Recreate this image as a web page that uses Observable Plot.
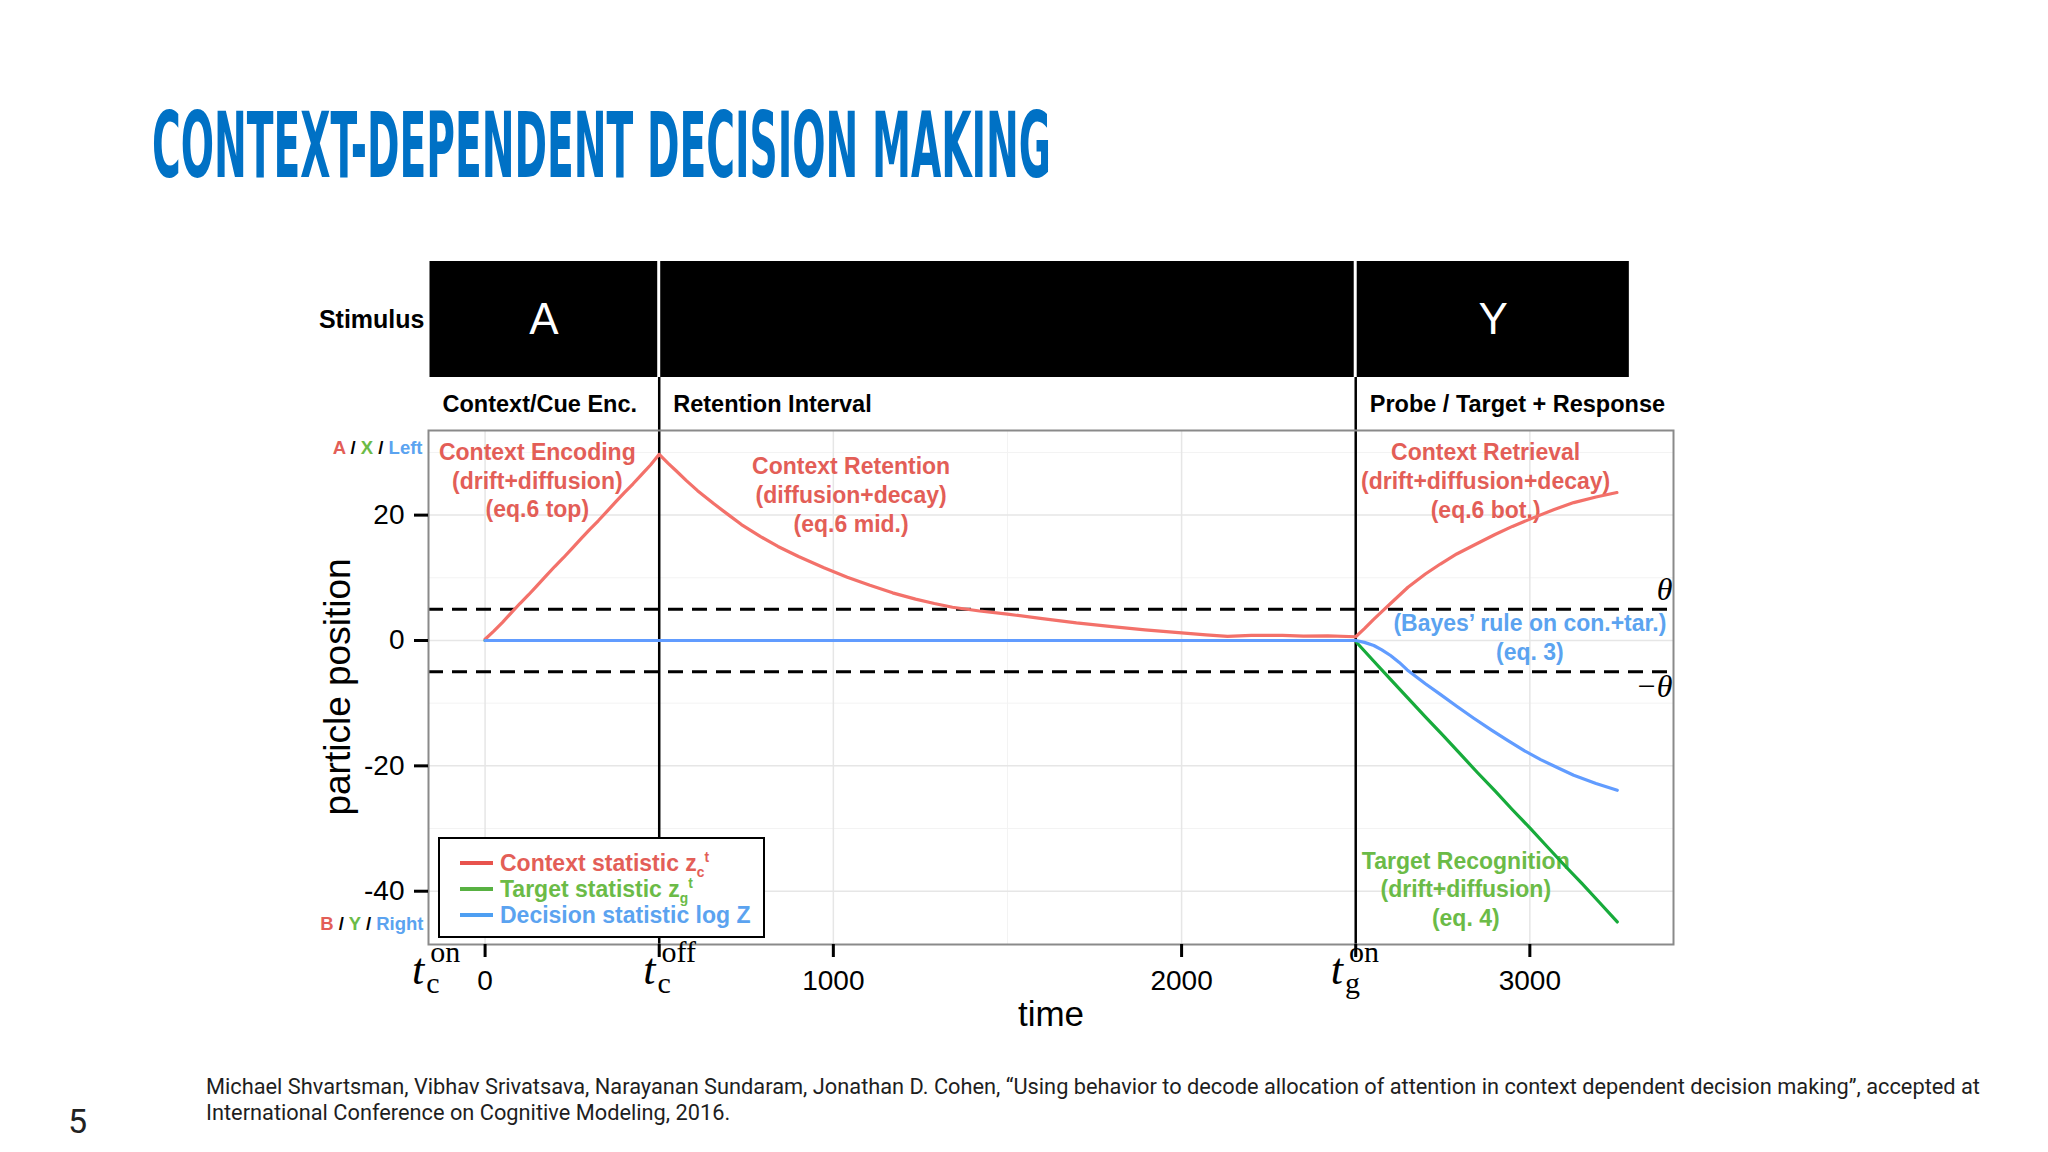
<!DOCTYPE html>
<html lang="en">
<head>
<meta charset="utf-8">
<title>Context-dependent decision making</title>
<script src="https://cdn.jsdelivr.net/npm/d3@7"></script>
<script src="https://cdn.jsdelivr.net/npm/@observablehq/plot@0.6"></script>
<style>
  html, body { margin:0; padding:0; background:#fff; }
  body { width:2048px; height:1152px; position:relative; overflow:hidden; font-family:"Liberation Sans", Arial, sans-serif; }
  .abs { position:absolute; }
  #stim, #phase, #main { position:absolute; left:0; width:2048px; }
  #stim { top:261px; }
  #phase { top:377px; }
  #main { top:420px; }
  #ylabel { position:absolute; left:337px; top:687px; transform:translate(-50%,-50%) rotate(-90deg); font-size:37px; white-space:nowrap; line-height:1; color:#000; }
  #legend { position:absolute; left:438px; top:837px; width:327px; height:101px; border:2px solid #000; background:#fff; box-sizing:border-box; }
  .lrow { position:absolute; left:0; height:26px; font-weight:bold; font-size:23px; white-space:nowrap; }
  .lkey { position:absolute; left:20px; width:33px; height:4px; }
  .ltext { position:absolute; left:60px; top:0; line-height:26px; }
  .ltext sub, .ltext sup { font-size:0.6em; line-height:0; }
  #cite { position:absolute; left:206px; top:1074px; font-family:Roboto, "Open Sans", sans-serif; font-size:20px; line-height:26px; color:#1e1e1e; white-space:nowrap; }
  #slide { position:absolute; left:68px; top:1104px; font-family:Roboto, sans-serif; font-size:34px; line-height:34px; color:#222; }
</style>
</head>
<body>
<div id="stim"></div>
<div id="phase"></div>
<div id="main"></div>
<script>
// ---------- data ----------
const titleText = "CONTEXT-DEPENDENT DECISION MAKING";
const stimulusLabel = "Stimulus";
const stimuli = [
  {label: "A", start: -162.5, end: 500},
  {label: "",  start: 500,    end: 2500},
  {label: "Y", start: 2500,   end: 3290}
];
const phases = [
  {label: "Context/Cue Enc.",          start: -162.5},
  {label: "Retention Interval",        start: 500},
  {label: "Probe / Target + Response", start: 2500}
];
const phaseBoundaries = [500, 2500];
const thresholds = [5, -5];
const xLabelTicks = [0, 1000, 2000, 3000];
const xEventTicks = [500, 2500];
const yTicks = [-40, -20, 0, 20];
const xGridMajor = [0, 1000, 2000, 3000];
const xGridMinor = [500, 1500, 2500];
const yGridMajor = [-40, -20, 0, 20];
const yGridMinor = [-30, -10, 10, 30];
const xTitle = "time";
const yTitle = "particle position";

// time (ms), value
const contextStatistic = [
  [0,0.2],[25,1.5],[50,2.9],[75,4.4],[100,5.9],[125,7.3],[150,8.8],[175,10.3],[200,11.8],[225,13.2],
  [250,14.7],[275,16.2],[300,17.7],[325,19.1],[350,20.6],[375,22.1],[400,23.6],[425,25.0],[450,26.5],
  [475,28.0],[500,29.7],
  [525,28.3],[550,27.0],[578,25.5],[610,23.9],[657,21.8],[700,20.0],[736,18.5],[790,16.6],[841,15.0],
  [900,13.4],[973,11.6],[1040,10.1],[1105,8.8],[1170,7.6],[1236,6.6],[1290,5.9],[1342,5.3],[1420,4.7],
  [1500,4.2],[1600,3.5],[1698,2.8],[1800,2.2],[1895,1.7],[2000,1.2],[2070,0.9],[2132,0.65],[2200,0.8],
  [2290,0.8],[2350,0.7],[2420,0.75],[2500,0.6],
  [2525,1.9],[2550,3.3],[2575,4.6],[2600,5.9],[2650,8.5],[2700,10.6],[2743,12.2],[2790,13.8],[2839,15.2],
  [2900,16.9],[2950,18.2],[3011,19.6],[3070,20.9],[3126,22.0],[3190,22.9],[3250,23.6]
];
const targetStatistic = [
  [0,0],[2500,0],[2504,-0.4],[2550,-3.2],[2600,-6.2],[2650,-9.2],[2700,-12.2],[2750,-15.1],[2800,-18.1],
  [2850,-21.1],[2900,-24.0],[2950,-27.0],[3000,-29.9],[3050,-32.9],[3100,-35.9],[3150,-38.8],[3200,-41.8],[3251,-44.9]
];
const decisionStatistic = [
  [0,0],[2500,0],[2525,-0.3],[2552,-0.8],[2575,-1.5],[2600,-2.4],[2625,-3.5],[2648,-4.7],[2700,-6.9],
  [2743,-8.6],[2790,-10.5],[2839,-12.4],[2890,-14.3],[2935,-15.9],[2985,-17.6],[3031,-19.0],[3080,-20.3],
  [3126,-21.5],[3190,-22.8],[3251,-23.9]
];
const annotations = [
  {series: "context",  time: 150,  value: 25.7,  text: "Context Encoding\n(drift+diffusion)\n(eq.6 top)"},
  {series: "context",  time: 1051, value: 23.4,  text: "Context Retention\n(diffusion+decay)\n(eq.6 mid.)"},
  {series: "context",  time: 2873, value: 25.6,  text: "Context Retrieval\n(drift+diffusion+decay)\n(eq.6 bot.)"},
  {series: "decision", time: 3000, value: 0.7,   text: "(Bayes’ rule on con.+tar.)\n(eq. 3)"},
  {series: "target",   time: 2816, value: -39.5, text: "Target Recognition\n(drift+diffusion)\n(eq. 4)"}
];
const mathTicks = [
  {time: 0,    base: "t", sup: "on",  sub: "c"},
  {time: 500,  base: "t", sup: "off", sub: "c"},
  {time: 2500, base: "t", sup: "on",  sub: "g"}
];
const topSideLabel = [["A","context"],[" / ","axis"],["X","target"],[" / ","axis"],["Left","decision"]];
const bottomSideLabel = [["B","context"],[" / ","axis"],["Y","target"],[" / ","axis"],["Right","decision"]];
const legendItems = [
  {series: "context",  label: "Context statistic z", sub: "c", sup: "t"},
  {series: "target",   label: "Target statistic z",  sub: "g", sup: "t"},
  {series: "decision", label: "Decision statistic log Z", sub: "", sup: ""}
];
const citation = [
  "Michael Shvartsman, Vibhav Srivatsava, Narayanan Sundaram, Jonathan D. Cohen, “Using behavior to decode allocation of attention in context dependent decision making”, accepted at",
  "International Conference on Cognitive Modeling, 2016."
];
const slideNumber = "5";

// ---------- style ----------
const lineColor = {context: "#f3716a", target: "#17ab3b", decision: "#619cff"};
const textColor = {context: "#e35e57", target: "#6bbb47", decision: "#5ba3f0", axis: "#000"};
const keyColor  = {context: "#e8534d", target: "#58b142", decision: "#4e9ff2"};
const titleColor = "#0071c5";
const sans = "Liberation Sans, Arial, sans-serif";
const serif = "Liberation Serif, Times New Roman, serif";
const W = 2048, ML = 428, MR = 2048 - 1673;
const xDomain = [-162.5, 3412.5];
const yDomain = [-48.5, 33.5];
const mathTickDx = {0: -73, 500: -16, 2500: -25};
const baseStyle = {background: "transparent", overflow: "visible", fontFamily: sans, color: "#000"};

// ---------- title ----------
const titleSvg = d3.select("body").append("svg").attr("class", "abs")
  .style("left", "0px").style("top", "0px").attr("width", 2048).attr("height", 230);
titleSvg.append("text").attr("x", 152).attr("y", 177)
  .attr("font-family", "DejaVu Sans Condensed, DejaVu Sans, sans-serif").attr("font-weight", "bold")
  .attr("font-size", 91).attr("fill", titleColor)
  .attr("textLength", 899).attr("lengthAdjust", "spacingAndGlyphs")
  .text(titleText);

// ---------- stimulus strip ----------
const stimPlot = Plot.plot({
  width: W, height: 116, marginLeft: ML, marginRight: MR, marginTop: 0, marginBottom: 0,
  style: baseStyle,
  x: {domain: xDomain, axis: null},
  marks: [
    Plot.rect(stimuli, {x1: "start", x2: "end", fill: "#000", insetLeft: 1.5, insetRight: 1.5}),
    Plot.text(stimuli.filter(d => d.label), {x: d => (d.start + d.end) / 2, text: "label", fill: "#fff", fontSize: 44, frameAnchor: "middle"}),
    Plot.text([stimulusLabel], {text: d => d, frameAnchor: "left", textAnchor: "end", dx: -4, fontSize: 25, fontWeight: "bold", fill: "#000"})
  ]
});
document.getElementById("stim").appendChild(stimPlot);

// ---------- phase row ----------
const phasePlot = Plot.plot({
  width: W, height: 53, marginLeft: ML, marginRight: MR, marginTop: 0, marginBottom: 0,
  style: baseStyle,
  x: {domain: xDomain, axis: null},
  marks: [
    Plot.ruleX(phaseBoundaries, {stroke: "#000", strokeWidth: 2.5}),
    Plot.text(phases, {x: "start", text: "label", textAnchor: "start", dx: 14, frameAnchor: "middle", fontSize: 23.5, fontWeight: "bold", fill: "#000"})
  ]
});
document.getElementById("phase").appendChild(phasePlot);

// ---------- helpers ----------
function coloredText(parts, options) {
  return Plot.text([parts.map(p => p[0]).join("")], {
    ...options, text: d => d,
    render(index, scales, values, dims, ctx, next) {
      const g = next(index, scales, values, dims, ctx);
      d3.select(g).selectAll("text").each(function() {
        const t = d3.select(this).text(null);
        parts.forEach(p => t.append("tspan").attr("fill", textColor[p[1]]).text(p[0]));
      });
      return g;
    }
  });
}
function annotationMark(series) {
  return Plot.text(annotations.filter(a => a.series === series), {
    x: "time", y: "value", text: "text", fill: textColor[series],
    fontSize: 23, fontWeight: "bold", lineHeight: 1.25, textAnchor: "middle", lineAnchor: "middle"
  });
}
function statLine(data, series) {
  return Plot.line(data, {x: d => d[0], y: d => d[1], stroke: lineColor[series], strokeWidth: 3.2, curve: "linear"});
}

// ---------- main panel ----------
const mainPlot = Plot.plot({
  width: W, height: 624, marginLeft: ML, marginRight: MR, marginTop: 10, marginBottom: 100,
  style: {...baseStyle, fontSize: "28px"},
  x: {domain: xDomain},
  y: {domain: yDomain},
  marks: [
    Plot.gridX(xGridMinor, {stroke: "#f3f3f3", strokeOpacity: 1, strokeWidth: 1}),
    Plot.gridY(yGridMinor, {stroke: "#f3f3f3", strokeOpacity: 1, strokeWidth: 1}),
    Plot.gridX(xGridMajor, {stroke: "#e6e6e6", strokeOpacity: 1, strokeWidth: 1.5}),
    Plot.gridY(yGridMajor, {stroke: "#e6e6e6", strokeOpacity: 1, strokeWidth: 1.5}),
    annotationMark("context"),
    annotationMark("decision"),
    annotationMark("target"),
    Plot.ruleY(thresholds, {stroke: "#000", strokeWidth: 3, strokeDasharray: "15,9"}),
    Plot.ruleX(phaseBoundaries, {stroke: "#000", strokeWidth: 2.5}),
    statLine(contextStatistic, "context"),
    statLine(targetStatistic, "target"),
    statLine(decisionStatistic, "decision"),
    Plot.frame({stroke: "#8a8a8a", strokeWidth: 2}),
    Plot.axisY({ticks: yTicks, tickSize: 14, tickPadding: 10, fontSize: 28, tickFormat: d => String(d), label: null, strokeWidth: 3}),
    Plot.axisX({ticks: xLabelTicks, tickSize: 13, tickPadding: 13, fontSize: 28, tickFormat: d => String(d), label: null, strokeWidth: 3}),
    Plot.axisX({ticks: xEventTicks, tickSize: 13, fill: "none", label: null, strokeWidth: 3}),
    Plot.text([xTitle], {text: d => d, frameAnchor: "bottom", dy: 70, fontSize: 35, lineAnchor: "middle", fill: "#000"}),
    Plot.text(["θ"], {text: d => d, y: () => thresholds[0], frameAnchor: "right", textAnchor: "end", dx: -1, dy: -19, fontFamily: serif, fontStyle: "italic", fontSize: 32, fill: "#000"}),
    Plot.text(["−θ"], {text: d => d, y: () => thresholds[1], frameAnchor: "right", textAnchor: "end", dx: -1, dy: 15, fontFamily: serif, fontStyle: "italic", fontSize: 32, fill: "#000"}),
    coloredText(topSideLabel, {frameAnchor: "top-left", textAnchor: "end", dx: -6, dy: 10, fontSize: 18.5, fontWeight: "bold"}),
    coloredText(bottomSideLabel, {frameAnchor: "bottom-left", textAnchor: "end", dx: -5, dy: -15, fontSize: 18.5, fontWeight: "bold"}),
    Plot.text(mathTicks, {
      x: "time", text: "base", frameAnchor: "bottom", dy: 39, textAnchor: "start", lineAnchor: "bottom",
      fontFamily: serif, fontStyle: "italic", fontSize: 44, fill: "#000",
      render(index, scales, values, dims, ctx, next) {
        const g = next(index, scales, values, dims, ctx);
        d3.select(g).selectAll("text").each(function(i) {
          const d = mathTicks[i];
          const t = d3.select(this).text(null).attr("dx", mathTickDx[d.time]);
          t.append("tspan").text(d.base);
          t.append("tspan").attr("class", "msup").attr("font-style", "normal").attr("font-size", 30).attr("dx", 6).attr("dy", -22).text(d.sup);
          t.append("tspan").attr("class", "msub").attr("font-style", "normal").attr("font-size", 30).attr("dx", -30).attr("dy", 31).text(d.sub);
        });
        return g;
      }
    })
  ]
});
document.getElementById("main").appendChild(mainPlot);
document.querySelectorAll("tspan.msup").forEach(s => {
  const w = s.getComputedTextLength();
  s.nextSibling.setAttribute("dx", -(w + 4));
});

// ---------- y title ----------
d3.select("body").append("div").attr("id", "ylabel").text(yTitle);

// ---------- legend ----------
const legend = d3.select("body").append("div").attr("id", "legend");
legendItems.forEach((item, i) => {
  const row = legend.append("div").attr("class", "lrow").style("top", (11 + 26 * i) + "px").style("width", "100%");
  row.append("div").attr("class", "lkey").style("background", keyColor[item.series]).style("top", "11px");
  const txt = row.append("div").attr("class", "ltext").style("color", textColor[item.series]);
  txt.append("span").text(item.label);
  if (item.sub) txt.append("sub").text(item.sub);
  if (item.sup) txt.append("sup").text(item.sup);
});

// ---------- citation & slide number ----------
const cite = d3.select("body").append("div").attr("id", "cite");
citation.forEach((line, i) => {
  cite.append("span").attr("class", "cline").text(line);
  if (i < citation.length - 1) cite.append("br");
});
const firstLine = cite.select("span.cline").node();
const w0 = firstLine.getBoundingClientRect().width;
if (w0 > 0) cite.style("font-size", (20 * 1775 / w0).toFixed(2) + "px");
d3.select("body").append("div").attr("id", "slide").text(slideNumber);
</script>
</body>
</html>
